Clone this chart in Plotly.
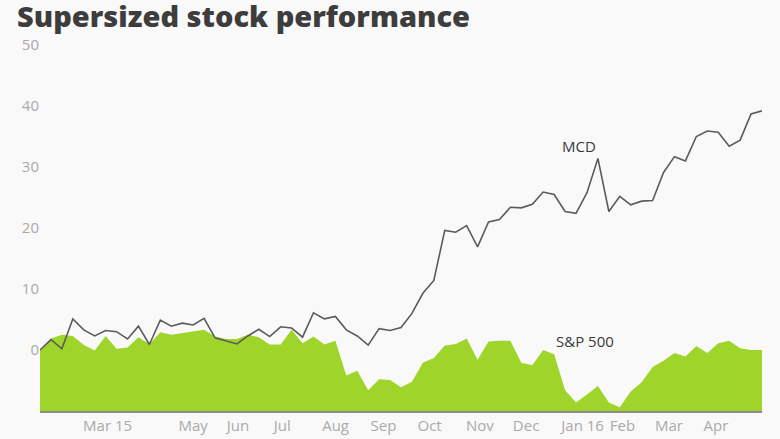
import pandas as pd
import plotly.graph_objects as go

# ---- data (weekly, % change since start) ----
START_DATE = "2015-02-04"
N_WEEKS = 67
dates = pd.date_range(START_DATE, periods=N_WEEKS, freq="7D")

mcd = [0.0, 1.7, 0.2, 5.1, 3.3, 2.3, 3.2, 3.0, 1.8, 3.9,
       0.9, 4.9, 3.9, 4.4, 4.1, 5.2, 2.0, 1.5, 1.0, 2.3,
       3.4, 2.2, 3.8, 3.6, 2.1, 6.1, 5.1, 5.5, 3.3, 2.3,
       0.8, 3.5, 3.2, 3.7, 6.0, 9.3, 11.4, 19.6, 19.3, 20.4,
       16.9, 21.0, 21.4, 23.4, 23.3, 23.9, 25.9, 25.5, 22.7, 22.4,
       25.8, 31.4, 22.7, 25.2, 23.8, 24.4, 24.5, 29.1, 31.7, 31.0,
       35.0, 35.9, 35.7, 33.4, 34.4, 38.7, 39.2]

sp500 = [0.0, 1.9, 2.5, 2.3, 0.8, -0.1, 2.3, 0.2, 0.4, 2.1,
         1.0, 2.9, 2.5, 2.8, 3.1, 3.3, 2.2, 1.8, 1.8, 2.5,
         2.1, 0.9, 0.9, 3.3, 1.1, 2.2, 0.9, 1.5, -4.2, -3.4,
         -6.6, -4.8, -4.9, -6.1, -5.2, -2.1, -1.3, 0.75, 1.0, 1.9,
         -1.6, 1.4, 1.5, 1.5, -2.1, -2.5, 0.0, -0.7, -6.6, -8.6,
         -7.3, -5.9, -8.6, -9.4, -6.8, -5.3, -2.8, -1.75, -0.5, -1.05,
         0.65, -0.5, 1.1, 1.5, 0.3, 0.0, 0.0]

tick_dates = ["2015-03-01", "2015-05-01", "2015-06-01", "2015-07-01", "2015-08-01",
              "2015-09-01", "2015-10-01", "2015-11-01", "2015-12-01", "2016-01-01",
              "2016-02-01", "2016-03-01", "2016-04-01"]
tick_labels = ["Mar 15", "May", "Jun", "Jul", "Aug", "Sep", "Oct", "Nov", "Dec",
               "Jan 16", "Feb", "Mar", "Apr"]

Y_MIN, Y_MAX = -10, 50
y_ticks = [0, 10, 20, 30, 40, 50]

# ---- figure ----
BG = "#f9f9f9"
GREEN = "#9fd42b"

fig = go.Figure()
fig.add_trace(go.Scatter(x=dates, y=[Y_MIN] * len(dates), mode="lines",
                         line=dict(width=0), hoverinfo="skip", showlegend=False))
fig.add_trace(go.Scatter(x=dates, y=sp500, mode="lines", name="S&P 500",
                         line=dict(width=0, color=GREEN), fill="tonexty",
                         fillcolor=GREEN, showlegend=False))
fig.add_trace(go.Scatter(x=dates, y=mcd, mode="lines", name="MCD",
                         line=dict(width=1.6, color="#5b5b5b"), showlegend=False))

fig.add_annotation(x="2016-01-15", y=33.5, text="MCD", showarrow=False,
                   font=dict(family="Open Sans", size=15, color="#3a3a3a"))
fig.add_annotation(x="2016-01-19", y=1.4, text="S&P 500", showarrow=False,
                   font=dict(family="Open Sans", size=15, color="#3a3a3a"))

fig.update_layout(
    width=780, height=439,
    paper_bgcolor=BG, plot_bgcolor=BG,
    margin=dict(l=40, r=18, t=45, b=28, autoexpand=False),
    title=dict(text="Supersized stock performance",
               x=17 / 780, xanchor="left", xref="container",
               y=0.984, yanchor="top", yref="container",
               font=dict(family="Open Sans", size=29, color="#3d3d3d", weight=800)),
    xaxis=dict(range=[dates[0], dates[-1]], tickvals=tick_dates, ticktext=tick_labels,
               showgrid=False, zeroline=False, showline=True, linecolor="#8c8c8c",
               linewidth=2, ticks="", ticklabelposition="outside right",
               ticklabelshift=3, automargin=False,
               tickfont=dict(family="Open Sans", size=15, color="#aaaaaa")),
    yaxis=dict(range=[Y_MIN, Y_MAX], tickvals=y_ticks, showgrid=False,
               zeroline=False, showline=False, ticks="", automargin=False,
               tickfont=dict(family="Open Sans", size=15, color="#aaaaaa")),
)

fig.write_html("out.html",
               config={"displayModeBar": False},
               post_script="document.body.style.margin='0px';"
                           "document.body.style.background='" + BG + "';")
